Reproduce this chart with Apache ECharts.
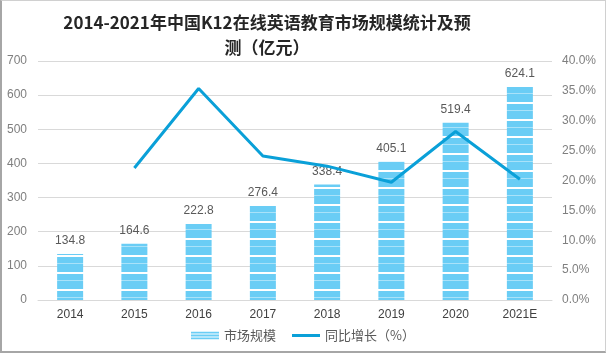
<!DOCTYPE html>
<html><head><meta charset="utf-8">
<script src="https://cdn.jsdelivr.net/npm/echarts@6/dist/echarts.min.js"></script>
<style>html,body{margin:0;padding:0;background:#fff}#w{position:relative;width:606px;height:355px}#c{width:606px;height:355px}#b{position:absolute;left:0;top:0;width:606px;height:353px;box-sizing:border-box;border-left:2px solid #A6A6A6;border-bottom:2px solid #A6A6A6;border-top:1px solid #D0D0D0;border-right:1px solid #D0D0D0;pointer-events:none}</style>
</head><body><div id="w"><div id="c"></div><div id="b"></div></div>
<script>
var categories = ['2014','2015','2016','2017','2018','2019','2020','2021E'];
var marketSize = [134.8,164.6,222.8,276.4,338.4,405.1,519.4,624.1];
var growth = [null,22.1,35.4,24.1,22.4,19.7,28.2,20.2];
var leftTicks = {min:0,max:700,interval:100};
var rightTicks = {min:0,max:40,interval:5};

function makePattern(){
  var c=document.createElement('canvas');c.width=4;c.height=17;
  var g=c.getContext('2d');
  g.fillStyle='#6ACDF5';g.fillRect(0,0,4,17);
  g.fillStyle='#FFFFFF';g.fillRect(0,0,4,2);
  g.fillStyle='#A9E2F9';g.fillRect(0,8,4,1);
  return c;
}
function makeLegendPattern(){
  var c=document.createElement('canvas');c.width=4;c.height=3;
  var g=c.getContext('2d');
  g.fillStyle='#6ACDF5';g.fillRect(0,0,4,3);
  g.fillStyle='#FFFFFF';g.fillRect(0,2,4,1);
  return c;
}
var pat={image:makePattern(),repeat:'repeat'};
var lpat={image:makeLegendPattern(),repeat:'repeat'};
var T='rgba(0,0,0,0)';
var lineIcon={type:'linear',x:0,y:0,x2:0,y2:1,colorStops:[
  {offset:0,color:T},{offset:0.32,color:T},{offset:0.32,color:'#0AA0D8'},
  {offset:0.68,color:'#0AA0D8'},{offset:0.68,color:T},{offset:1,color:T}]};
var chart=echarts.init(document.getElementById('c'));
chart.setOption({
  animation:false,
  title:{text:'2014-2021年中国K12在线英语教育市场规模统计及预\n测（亿元）',left:262,top:5,textAlign:'center',
    textStyle:{fontFamily:'Noto Sans CJK SC',fontWeight:'bold',fontSize:17,color:'#262626',lineHeight:25}},
  legend:{bottom:8,left:'center',itemGap:16,itemWidth:28,itemHeight:8,
    textStyle:{fontFamily:'Noto Sans CJK SC',fontSize:13,color:'#595959'},
    data:[{name:'市场规模',icon:'rect',itemStyle:{color:lpat}},
          {name:'同比增长（%）',icon:'rect',itemStyle:{color:lineIcon,borderWidth:0}}]},
  grid:{left:38,right:54,top:61,bottom:55},
  xAxis:{type:'category',data:categories,axisTick:{show:false},
    axisLine:{lineStyle:{color:'#D9D9D9'}},
    axisLabel:{color:'#404040',fontSize:12,fontFamily:'Liberation Sans',margin:9}},
  yAxis:[
    {type:'value',min:leftTicks.min,max:leftTicks.max,interval:leftTicks.interval,
     axisLabel:{color:'#7F7F7F',fontSize:12,fontFamily:'Liberation Sans',margin:11},
     splitLine:{lineStyle:{color:'#D9D9D9'}},axisLine:{show:false},axisTick:{show:false}},
    {type:'value',min:rightTicks.min,max:rightTicks.max,interval:rightTicks.interval,
     axisLabel:{color:'#7F7F7F',fontSize:12,fontFamily:'Liberation Sans',margin:10,
       formatter:function(v){return v.toFixed(1)+'%';}},
     splitLine:{show:false},axisLine:{show:false},axisTick:{show:false}}
  ],
  series:[
    {name:'市场规模',type:'bar',data:marketSize,barWidth:26,itemStyle:{color:pat},
     label:{show:true,position:'top',distance:7,color:'#595959',fontSize:12,fontFamily:'Liberation Sans'}},
    {name:'同比增长（%）',type:'line',yAxisIndex:1,data:growth,showSymbol:false,symbol:'none',
     lineStyle:{color:'#0AA0D8',width:3},itemStyle:{color:'#0AA0D8'}}
  ]
});
</script></body></html>
